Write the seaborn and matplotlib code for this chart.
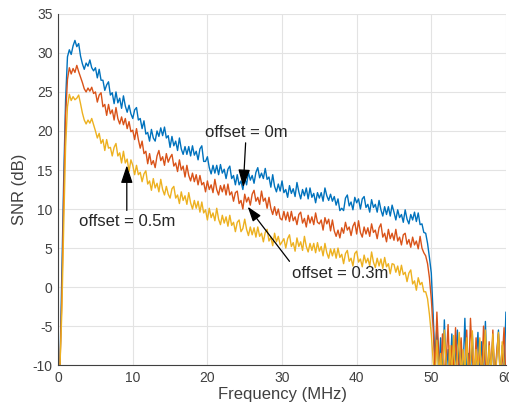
import numpy as np
import pandas as pd
import matplotlib
matplotlib.use("Agg")
import matplotlib.pyplot as plt
import seaborn as sns

# frequency grid (MHz), 0.25 MHz step
freq = np.arange(0, 60.001, 0.25)

snr_0m = [
    -12, -10, 2, 14, 24, 29.5, 30.4, 29.8, 30.9, 31.6, 30.8, 31.2, 29.6, 28.6, 27.9, 28.7, 28.3, 29.1, 28.1, 27.7,
    28.1, 26.8, 27.9, 26.5, 26.5, 25.2, 25.9, 26.3, 24.6, 24.9, 23.5, 25.0, 23.6, 24.2, 22.9, 24.5, 23.2, 22.4, 23.3, 22.2,
    21.6, 22.7, 23.0, 21.4, 21.6, 20.3, 21.3, 19.6, 19.8, 18.7, 20.2, 19.1, 18.7, 20.0, 19.3, 20.4, 19.4, 20.5, 19.1, 19.4,
    17.9, 19.3, 18.1, 18.7, 17.5, 19.1, 17.7, 17.0, 18.0, 17.0, 18.0, 16.8, 18.1, 16.9, 17.4, 16.3, 17.7, 18.1, 16.1, 16.1,
    16.7, 15.3, 14.5, 15.6, 14.6, 15.6, 14.4, 15.7, 14.6, 15.1, 13.9, 15.1, 15.5, 13.9, 14.3, 13.1, 14.4, 13.1, 13.6, 12.5,
    14.0, 13.1, 14.7, 13.7, 14.3, 13.3, 14.7, 15.3, 14.0, 14.6, 13.9, 15.2, 13.8, 14.1, 12.8, 14.4, 12.9, 12.2, 13.2, 12.3,
    13.6, 12.1, 12.5, 11.5, 13.0, 12.0, 12.6, 11.6, 13.4, 12.2, 11.3, 12.5, 11.7, 12.7, 11.3, 12.7, 11.5, 12.0, 10.8, 12.1,
    11.4, 12.1, 11.0, 12.7, 11.7, 11.1, 11.9, 11.0, 11.6, 10.5, 11.3, 9.8, 10.1, 9.8, 11.4, 11.8, 10.4, 10.9, 9.9, 11.5,
    10.8, 11.3, 10.0, 11.3, 11.6, 10.2, 10.6, 9.6, 11.2, 10.2, 10.6, 9.6, 11.1, 9.9, 9.1, 10.3, 9.3, 10.3, 9.1, 10.5,
    9.6, 8.6, 9.9, 8.9, 9.3, 8.3, 9.9, 8.7, 8.1, 9.3, 8.6, 9.6, 8.4, 9.5, 8.0, 8.1, 7.0, 6.9, 5.6, 3.8,
    1.8, -3.5, -9.5, -5.0, -11, -6.5, -12, -4.2, -11, -8.0, -12, -6.0, -11, -9.0, -5.5, -12, -7.5, -11, -4.0, -12,
    -8.5, -11, -6.0, -12, -9.5, -5.8, -12, -7.0, -11, -4.4, -12, -8.0, -11, -6.5, -12, -9.0, -5.5, -12, -7.5, -11,
    -3.2,
]

snr_03m = [
    -12, -10, -1, 12, 22, 26.6, 28.1, 27.3, 28.0, 27.5, 28.4, 27.6, 26.9, 26.2, 25.4, 25.0, 25.5, 25.1, 25.6, 24.8,
    25.0, 23.7, 24.6, 24.9, 23.1, 23.4, 22.0, 23.4, 22.2, 22.7, 21.4, 23.0, 21.6, 20.9, 21.8, 20.8, 21.6, 20.3, 21.2, 19.9,
    20.1, 18.9, 20.3, 18.9, 17.8, 18.7, 17.1, 17.4, 15.8, 17.1, 15.7, 16.2, 15.3, 16.8, 17.5, 16.2, 16.7, 15.6, 17.1, 16.0,
    16.6, 17.0, 15.5, 15.9, 14.8, 16.3, 15.0, 15.5, 14.1, 15.6, 14.3, 13.6, 14.6, 13.5, 14.4, 13.1, 14.3, 13.1, 13.4, 12.2,
    13.6, 12.5, 13.1, 12.1, 13.8, 12.5, 11.8, 13.0, 12.2, 13.1, 11.8, 13.2, 11.8, 12.2, 11.0, 12.1, 12.3, 10.7, 11.1, 10.0,
    11.9, 10.9, 11.5, 10.5, 11.9, 12.4, 11.0, 11.5, 10.6, 12.3, 11.0, 11.4, 10.1, 11.5, 10.1, 9.3, 10.3, 9.2, 10.0, 8.8,
    8.6, 9.7, 8.6, 9.6, 8.4, 9.7, 8.5, 9.0, 8.0, 9.3, 9.6, 8.2, 8.8, 7.7, 9.2, 8.2, 9.0, 8.0, 9.5, 8.3,
    8.1, 8.6, 7.3, 8.9, 8.1, 8.7, 7.2, 8.6, 7.2, 6.5, 7.3, 6.3, 7.6, 6.9, 8.3, 7.3, 7.7, 6.6, 7.8, 8.3,
    6.8, 8.5, 7.0, 6.4, 7.7, 6.8, 7.6, 6.5, 8.1, 7.0, 7.3, 6.2, 7.6, 8.1, 6.4, 6.9, 5.8, 7.4, 6.2, 6.9,
    6.0, 7.4, 5.9, 6.4, 5.4, 6.7, 6.9, 5.5, 6.1, 5.1, 6.4, 5.4, 5.9, 4.9, 6.5, 5.0, 4.4, 4.0, 3.0, 1.2,
    -1.5, -5.2, -11, -3.2, -8.5, -12, -6.0, -11, -9.5, -4.8, -12, -7.5, -11, -5.2, -12, -9.0, -6.5, -12, -10, -5.5,
    -12, -4.0, -9.0, -12, -6.5, -11, -8.0, -12, -5.0, -10, -12, -7.0, -11, -5.5, -12, -8.5, -6.0, -12, -9.5, -5.2,
    -12,
]

snr_05m = [
    -12, -10, -3, 8, 18, 23.1, 24.7, 23.9, 24.4, 24.0, 24.2, 24.6, 23.5, 22.3, 21.4, 20.9, 21.4, 21.0, 21.6, 20.8,
    20.0, 19.1, 19.7, 18.4, 18.9, 17.5, 18.9, 17.8, 17.9, 16.8, 17.9, 18.4, 16.8, 17.2, 15.9, 17.4, 15.9, 16.4, 14.8, 16.3,
    15.6, 14.4, 15.6, 14.4, 14.7, 13.5, 14.5, 14.9, 13.2, 13.6, 12.4, 13.9, 12.7, 13.3, 12.2, 13.8, 12.5, 11.8, 12.9, 11.9,
    11.4, 12.6, 12.9, 11.4, 11.8, 10.7, 12.2, 11.1, 11.7, 10.6, 12.1, 10.8, 10.0, 11.1, 10.1, 11.0, 9.6, 10.9, 9.5, 9.9,
    8.6, 10.1, 8.9, 9.5, 8.5, 10.1, 8.7, 8.0, 9.2, 8.2, 9.0, 7.8, 9.2, 7.9, 8.3, 7.1, 8.3, 8.6, 7.1, 7.5,
    8.7, 7.4, 6.6, 7.7, 6.7, 7.6, 6.4, 7.7, 6.5, 6.9, 5.8, 7.0, 7.4, 5.9, 6.4, 5.3, 6.9, 5.8, 6.5, 5.4,
    5.8, 6.2, 5.0, 6.2, 6.7, 5.2, 5.7, 4.6, 6.3, 5.2, 5.8, 4.7, 6.5, 5.2, 4.5, 5.6, 4.7, 5.6, 4.4, 5.7,
    4.6, 5.2, 4.0, 5.6, 4.4, 3.7, 4.9, 4.0, 4.9, 3.7, 5.0, 3.8, 4.2, 3.0, 4.3, 4.7, 3.3, 3.7, 2.7, 4.3,
    4.6, 3.2, 3.6, 2.6, 4.1, 3.1, 3.7, 2.7, 4.5, 3.2, 2.5, 3.7, 2.7, 3.6, 2.4, 3.8, 2.6, 3.0, 1.7, 3.0,
    2.9, 1.9, 2.7, 1.5, 2.8, 1.6, 1.9, 0.7, 1.8, 2.2, 0.4, 0.8, -0.4, 1.2, 0.3, 0.6, -0.6, -0.6, -1.5, -3.5,
    -6.0, -9.5, -12, -6.8, -11, -8.5, -12, -5.5, -10, -12, -7.5, -11, -6.2, -12, -9.0, -5.8, -12, -8.0, -11, -6.5,
    -12, -9.5, -5.6, -12, -8.0, -11, -6.5, -12, -9.0, -5.5, -12, -7.5, -11, -6.0, -12, -9.5, -5.8, -12, -7.0, -10,
    -12,
]

series_names = ["offset = 0m", "offset = 0.3m", "offset = 0.5m"]
line_colors = ["#0072BD", "#D95319", "#EDB120"]

df = pd.DataFrame({
    "freq": np.tile(freq, 3),
    "snr": np.concatenate([snr_0m, snr_03m, snr_05m]),
    "offset": np.repeat(series_names, len(freq)),
})

sns.set_style("whitegrid")
plt.rcParams["font.family"] = ["Liberation Sans", "DejaVu Sans"]
plt.rcParams["axes.unicode_minus"] = False

fig = plt.figure(figsize=(5.1, 4.08), dpi=100)
ax = fig.add_axes([0.114, 0.105, 0.878, 0.861])

sns.lineplot(data=df, x="freq", y="snr", hue="offset", palette=line_colors,
             hue_order=series_names, estimator=None, sort=False,
             linewidth=1.0, legend=False, ax=ax)

ax.set_xlim(0, 60)
ax.set_ylim(-10, 35)
ax.set_xticks(range(0, 61, 10))
ax.set_yticks(range(-10, 36, 5))
ax.set_xlabel("Frequency (MHz)", fontsize=12, color="#404040", labelpad=2)
ax.set_ylabel("SNR (dB)", fontsize=12, color="#404040", labelpad=4)
ax.tick_params(direction="in", length=3, width=0.8, labelsize=10,
               colors="#404040", pad=4)
ax.grid(True, color="#e3e3e3", linewidth=0.8)
for side in ["top", "right"]:
    ax.spines[side].set_visible(False)
for side in ["left", "bottom"]:
    ax.spines[side].set_color("#404040")
    ax.spines[side].set_linewidth(0.8)

arrow = dict(arrowstyle="-|>,head_length=0.9,head_width=0.3", color="black",
             lw=0.9, shrinkA=0, shrinkB=0)
ax.annotate("offset = 0m", xy=(24.8, 12.8), xytext=(25.2, 18.9),
            ha="center", va="bottom", fontsize=12, arrowprops=arrow)
ax.annotate("offset = 0.5m", xy=(9.2, 15.6), xytext=(9.2, 9.4),
            ha="center", va="top", fontsize=12, arrowprops=arrow)
ax.annotate("", xy=(25.4, 10.3), xytext=(31.0, 3.3), arrowprops=arrow)
ax.text(31.4, 1.8, "offset = 0.3m", ha="left", va="center", fontsize=12)

fig.savefig("out.png", dpi=100)
